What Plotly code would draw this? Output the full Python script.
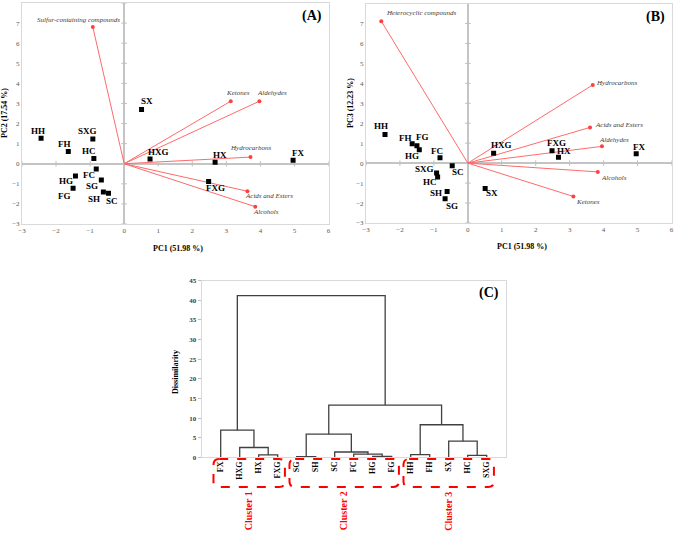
import plotly.graph_objects as go

# ---- data ----
samples = ["HH", "FH", "SXG", "HC", "FC", "HG", "SG", "FG", "SH", "SC", "SX", "HXG", "HX", "FXG", "FX"]
pc1 = [-2.44, -1.64, -0.92, -0.89, -0.82, -1.43, -0.67, -1.50, -0.61, -0.46, 0.51, 0.76, 2.67, 2.48, 4.96]
pc2 = [1.27, 0.61, 1.23, 0.26, -0.26, -0.61, -0.81, -1.22, -1.41, -1.47, 2.70, 0.23, 0.07, -0.89, 0.17]
pc3 = [1.44, 0.97, -0.50, -0.70, 0.27, 0.67, -1.79, 0.87, -1.42, -0.13, -1.27, 0.49, 0.30, 0.62, 0.47]

load_a_names = ["Sulfur-containing compounds", "Ketones", "Aldehydes", "Hydrocarbons", "Acids and Esters", "Alcohols"]
load_a_x = [-0.92, 3.13, 3.97, 3.71, 3.62, 3.85]
load_a_y = [6.80, 3.11, 3.11, 0.33, -1.37, -2.14]

load_b_names = ["Heterocyclic compounds", "Hydrocarbons", "Acids and Esters", "Aldehydes", "Alcohols", "Ketones"]
load_b_x = [-2.55, 3.68, 3.60, 3.95, 3.83, 3.11]
load_b_y = [7.11, 3.92, 1.79, 0.84, -0.44, -1.67]

# dendrogram: leaves in plotted order, then merges (node ids: leaves 0..14, merges 15..)
leaves = ["FX", "HXG", "HX", "FXG", "SG", "SH", "SC", "FC", "HG", "FG", "HH", "FH", "SX", "HC", "SXG"]
merge_a = [2, 1, 0, 4, 8, 7, 6, 18, 10, 13, 12, 23, 22, 17]
merge_b = [3, 15, 16, 5, 9, 19, 20, 21, 11, 14, 24, 25, 26, 27]
merge_h = [0.6, 2.5, 6.9, 0.15, 0.25, 0.8, 1.35, 5.9, 0.7, 0.5, 4.1, 8.3, 13.3, 41.2]

clusters = ["Cluster 1", "Cluster 2", "Cluster 3"]
cluster_members = [["FX", "HXG", "HX", "FXG"],
                   ["SG", "SH", "SC", "FC", "HG", "FG"],
                   ["HH", "FH", "SX", "HC", "SXG"]]

# ---- label offsets (px: right, up) ----
off_a = {"HH": (-3, 7), "FH": (-4, 7), "SXG": (-5, 8), "HC": (-5, 8), "FC": (-7, -6), "HG": (-9, -5),
         "SG": (-9, -6), "FG": (-9, -8), "SH": (-9, -7), "SC": (3, -8), "SX": (5, 8), "HXG": (8, 7),
         "HX": (5, 7), "FXG": (7, -6), "FX": (5, 7)}
off_b = {"HH": (-4, 8), "FH": (-7, 6), "FG": (6, 9), "HG": (-7, -6), "FC": (-3, 7), "SC": (6, -6),
         "SXG": (-12, 4), "HC": (-8, -5), "SH": (-11, -2), "SG": (7, -7), "SX": (7, -5), "HXG": (8, 8),
         "FXG": (4, 8), "HX": (6, 6), "FX": (3, 7)}
loff_a = {"Sulfur-containing compounds": (-14, 7), "Ketones": (7, 8), "Aldehydes": (13, 8),
          "Hydrocarbons": (0, 9), "Acids and Esters": (22, -5), "Alcohols": (11, -5)}
loff_b = {"Heterocyclic compounds": (40, 8), "Hydrocarbons": (24, 2), "Acids and Esters": (29, 2),
          "Aldehydes": (12, 6), "Alcohols": (16, -6), "Ketones": (15, -6)}

SERIF = "Liberation Serif, Times New Roman, serif"
VEC = "#ff6a6a"
GRID = "#d9d9d9"

fig = go.Figure()
annotations = []


def biplot(xs, ys, lx, ly, lnames, offs, loffs, xa, ya):
    # loading vectors
    vx, vy = [], []
    for a, b in zip(lx, ly):
        vx += [0, a, None]
        vy += [0, b, None]
    fig.add_trace(go.Scatter(x=vx, y=vy, mode="lines", line=dict(color=VEC, width=1),
                             xaxis=xa, yaxis=ya, hoverinfo="skip"))
    fig.add_trace(go.Scatter(x=lx, y=ly, mode="markers", marker=dict(color="#ff4040", size=4),
                             xaxis=xa, yaxis=ya, text=lnames))
    # ticks on the zero axes
    fig.add_trace(go.Scatter(x=[v for v in range(-3, 7) if v], y=[0] * 9, mode="markers",
                             marker=dict(symbol="line-ns", size=4, line=dict(color="#bfbfbf", width=1)),
                             xaxis=xa, yaxis=ya, hoverinfo="skip"))
    fig.add_trace(go.Scatter(x=[0] * 11, y=[v for v in range(-3, 9) if v], mode="markers",
                             marker=dict(symbol="line-ew", size=4, line=dict(color="#bfbfbf", width=1)),
                             xaxis=xa, yaxis=ya, hoverinfo="skip"))
    # samples
    fig.add_trace(go.Scatter(x=xs, y=ys, mode="markers", marker=dict(color="black", size=5, symbol="square"),
                             xaxis=xa, yaxis=ya, text=samples))
    for n, a, b in zip(samples, xs, ys):
        dx, dy = offs[n]
        annotations.append(dict(x=a, y=b, xref=xa, yref=ya, text="<b>%s</b>" % n, showarrow=False,
                                xshift=dx, yshift=dy, font=dict(family=SERIF, size=9, color="black")))
    for n, a, b in zip(lnames, lx, ly):
        dx, dy = loffs[n]
        annotations.append(dict(x=a, y=b, xref=xa, yref=ya, text="<i>%s</i>" % n, showarrow=False,
                                xshift=dx, yshift=dy, font=dict(family=SERIF, size=7, color="#404040")))


biplot(pc1, pc2, load_a_x, load_a_y, load_a_names, off_a, loff_a, "x", "y")
biplot(pc1, pc3, load_b_x, load_b_y, load_b_names, off_b, loff_b, "x2", "y2")

# dendrogram
pos = list(range(len(leaves)))
hgt = [0.0] * len(leaves)
dx_, dy_ = [], []
for a, b, h in zip(merge_a, merge_b, merge_h):
    dx_ += [pos[a], pos[a], pos[b], pos[b], None]
    dy_ += [hgt[a], h, h, hgt[b], None]
    pos.append((pos[a] + pos[b]) / 2)
    hgt.append(h)
fig.add_trace(go.Scatter(x=dx_, y=dy_, mode="lines", line=dict(color="#404040", width=1.3),
                         xaxis="x3", yaxis="y3", hoverinfo="skip"))

shapes = []
y_top, y_bot = 1 - 459 / 533, 1 - 487 / 533
rx, ry = 0.3, 0.011
for name, mem in zip(clusters, cluster_members):
    idx = [leaves.index(m) for m in mem]
    x0, x1 = min(idx) - 0.38, max(idx) + 0.38
    path = (f"M {x0+rx},{y_top} L {x1-rx},{y_top} Q {x1},{y_top} {x1},{y_top-ry} "
            f"L {x1},{y_bot+ry} Q {x1},{y_bot} {x1-rx},{y_bot} L {x0+rx},{y_bot} "
            f"Q {x0},{y_bot} {x0},{y_bot+ry} L {x0},{y_top-ry} Q {x0},{y_top} {x0+rx},{y_top} Z")
    shapes.append(dict(type="path", path=path, xref="x3", yref="paper",
                       line=dict(color="#ff0000", width=2, dash="dash")))
    annotations.append(dict(x=sum(idx) / len(idx), y=1 - 511 / 533, xref="x3", yref="paper",
                            xanchor="center", yanchor="middle",
                            text="<b>%s</b>" % name, textangle=-90, showarrow=False,
                            font=dict(family=SERIF, size=10, color="#ff0000")))

# panel letters and axis titles
for t, xr, yr in [("(A)", "x domain", "y domain"), ("(B)", "x2 domain", "y2 domain"), ("(C)", "x3 domain", "y3 domain")]:
    annotations.append(dict(x=0.985, y=0.985, xref=xr, yref=yr, xanchor="right", yanchor="top",
                            text="<b>%s</b>" % t, showarrow=False, font=dict(family=SERIF, size=14, color="black")))
title_font = dict(family=SERIF, size=8, color="black")
titles = [("PC1 (51.98 %)", 178, 248, 0), ("PC1 (51.98 %)", 522, 246, 0),
          ("PC2 (17.54 %)", 5, 113, -90), ("PC3 (12.23 %)", 350, 103, -90),
          ("Dissimilarity", 175, 372, -90)]
for t, px, py, ang in titles:
    annotations.append(dict(x=px / 674, y=1 - py / 533, xref="paper", yref="paper", xanchor="center",
                            yanchor="middle", text="<b>%s</b>" % t, textangle=ang, showarrow=False,
                            font=title_font))

tickfont = dict(family=SERIF, size=7, color="#595959")
pc_x = dict(range=[-3, 6], dtick=1, showgrid=False, zeroline=True, zerolinecolor="#c4c4c4", zerolinewidth=1.5,
            showline=True, mirror=True, linecolor=GRID, linewidth=1, ticks="", tickfont=tickfont,
            fixedrange=True, automargin=False)
pc_y = dict(range=[-3, 8], dtick=1, showgrid=False, zeroline=True, zerolinecolor="#c4c4c4", zerolinewidth=1.5,
            showline=True, mirror=True, linecolor=GRID, linewidth=1, ticks="", tickfont=tickfont,
            fixedrange=True, automargin=False)

fig.update_layout(
    width=674, height=533, margin=dict(l=0, r=0, t=0, b=0),
    paper_bgcolor="white", plot_bgcolor="white", showlegend=False,
    xaxis=dict(pc_x, domain=[22 / 674, 328.5 / 674], anchor="y"),
    yaxis=dict(pc_y, domain=[1 - 224 / 533, 1 - 3 / 533], anchor="x"),
    xaxis2=dict(pc_x, domain=[366 / 674, 671.5 / 674], anchor="y2"),
    yaxis2=dict(pc_y, domain=[1 - 223 / 533, 1 - 3.5 / 533], anchor="x2"),
    xaxis3=dict(domain=[201.7 / 674, 505.7 / 674], anchor="y3", range=[-1, 15], tickvals=list(range(len(leaves))),
                ticktext=["<b>%s</b>" % l for l in leaves], tickangle=-90, showgrid=False, zeroline=False,
                showline=True, mirror=True, linecolor=GRID, ticks="", automargin=False,
                tickfont=dict(family=SERIF, size=8, color="black"), fixedrange=True),
    yaxis3=dict(domain=[1 - 457.3 / 533, 1 - 280.7 / 533], anchor="x3", range=[0, 45], dtick=5, showgrid=False,
                zeroline=False, showline=True, mirror=True, linecolor=GRID, ticks="outside", ticklen=3,
                tickcolor="#bfbfbf", tickfont=dict(family=SERIF, size=7, color="#404040", weight="bold"),
                fixedrange=True, automargin=False),
    annotations=annotations, shapes=shapes,
)

# the page's default body margin would push the 674x533 figure off the window
fig.write_html("out.html", config={"displayModeBar": False},
               post_script="document.body.style.margin='0px';")
